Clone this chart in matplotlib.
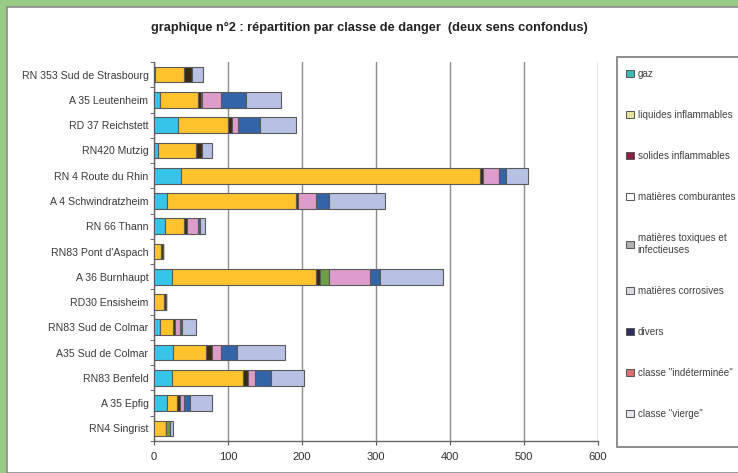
import matplotlib
matplotlib.use("Agg")
import matplotlib.pyplot as plt
from matplotlib.patches import Rectangle, Patch
import numpy as np

plt.rcParams["font.family"] = ["Liberation Sans", "DejaVu Sans"]

sites = [
    "RN 353 Sud de Strasbourg", "A 35 Leutenheim", "RD 37 Reichstett",
    "RN420 Mutzig", "RN 4 Route du Rhin", "A 4 Schwindratzheim",
    "RN 66 Thann", "RN83 Pont d'Aspach", "A 36 Burnhaupt",
    "RD30 Ensisheim", "RN83 Sud de Colmar", "A35 Sud de Colmar",
    "RN83 Benfeld", "A 35 Epfig", "RN4 Singrist",
]

classes = [
    "gaz", "liquides inflammables", "solides inflammables",
    "matières comburantes", "matières toxiques et\ninfectieuses",
    "matières corrosives", "divers", 'classe "indéterminée"', 'classe "vierge"',
]

gaz          = [2, 8, 32, 6, 37, 17, 15, 0, 24, 0, 8, 26, 24, 17, 0]
liquides     = [39, 52, 68, 51, 404, 175, 26, 9, 195, 14, 18, 44, 96, 14, 16]
solides      = [11, 3, 5, 8, 3, 3, 4, 3, 5, 2, 3, 9, 7, 4, 0]
comburantes  = [0, 0, 0, 0, 0, 0, 0, 0, 0, 0, 0, 0, 0, 0, 0]
toxiques     = [0, 2, 0, 0, 0, 0, 0, 0, 13, 0, 0, 0, 0, 0, 5]
corrosives   = [0, 25, 9, 0, 22, 24, 15, 0, 55, 0, 6, 11, 10, 6, 0]
divers       = [0, 34, 29, 0, 10, 18, 2, 0, 14, 0, 3, 22, 21, 7, 0]
indeterminee = [0, 0, 0, 0, 0, 0, 0, 0, 0, 0, 0, 0, 0, 0, 0]
vierge       = [14, 48, 49, 14, 30, 75, 7, 0, 84, 0, 19, 65, 45, 31, 4]

series = [gaz, liquides, solides, comburantes, toxiques, corrosives,
          divers, indeterminee, vierge]
colors = ["#36C4E8", "#FDC22C", "#3A2A12", "#FFFFFF", "#6E9E48",
          "#DE9CCB", "#3464A8", "#D23A3A", "#B6C1E4"]
legend_colors = ["#3FB8B8", "#E8E0A0", "#8A2040", "#FFFFFF", "#B0B0B0",
                 "#D8D8E0", "#303060", "#D87070", "#E4E6F0"]

fig = plt.figure(figsize=(7.38, 4.73), dpi=100, facecolor="#98CC86")
W, H = 738, 473

# white chart sheet inside the green border
fig.patches.append(Rectangle((7 / W, 0), 1, 1 - 7 / H, transform=fig.transFigure,
                             facecolor="white", edgecolor="#8A8A8A", lw=1.2, zorder=-5))

ax = fig.add_axes([154 / W, 1 - 441 / H, 444 / W, 379 / H])
ax.set_zorder(2)
ax.set_facecolor("white")

y = np.arange(len(sites))
left = np.zeros(len(sites))
for vals, col in zip(series, colors):
    v = np.array(vals, dtype=float)
    ax.barh(y, v, left=left, height=0.62, color=col, edgecolor="#5A5A5A",
            linewidth=0.8, zorder=3)
    left += v

ax.set_xlim(0, 600)
ax.set_ylim(len(sites) - 0.5, -0.5)
ax.set_xticks(np.arange(0, 601, 100))
ax.tick_params(axis="x", labelsize=8, length=3, color="#555555", pad=5,
               labelcolor="#303030")
ax.set_yticks(y)
ax.set_yticklabels(sites, fontsize=7.6, color="#3A3A3A")
ax.set_yticks(np.arange(-0.5, len(sites), 1), minor=True)
ax.tick_params(axis="y", which="major", length=0, pad=4)
ax.tick_params(axis="y", which="minor", length=3, color="#555555")
ax.grid(axis="x", color="#8C8C8C", lw=1.0, zorder=1)
for side in ["top", "right"]:
    ax.spines[side].set_visible(False)
for side in ["left", "bottom"]:
    ax.spines[side].set_color("#666666")
    ax.spines[side].set_linewidth(1.0)

fig.text(0.5, 1 - 28 / H, "graphique n°2 : répartition par classe de danger  (deux sens confondus)",
         ha="center", va="center", fontsize=9.2, fontweight="bold", color="#222222")

# legend frame, running off the right edge
fig.patches.append(Rectangle((617 / W, 1 - 447 / H), 140 / W, 390 / H,
                             transform=fig.transFigure, facecolor="white",
                             edgecolor="#7A7A7A", lw=1.2, zorder=-4))
handles = [Patch(facecolor=c, edgecolor="#555555", lw=0.7) for c in legend_colors]
leg = fig.legend(handles, classes, loc="upper left",
                 bbox_to_anchor=(619 / W, 1 - 62 / H), frameon=False,
                 fontsize=7.1, labelspacing=3.15, handlelength=0.8, handleheight=0.8,
                 handletextpad=0.4, borderpad=0.2)
for t in leg.get_texts():
    t.set_color("#404040")

fig.savefig("out.png", dpi=100, facecolor=fig.get_facecolor())
